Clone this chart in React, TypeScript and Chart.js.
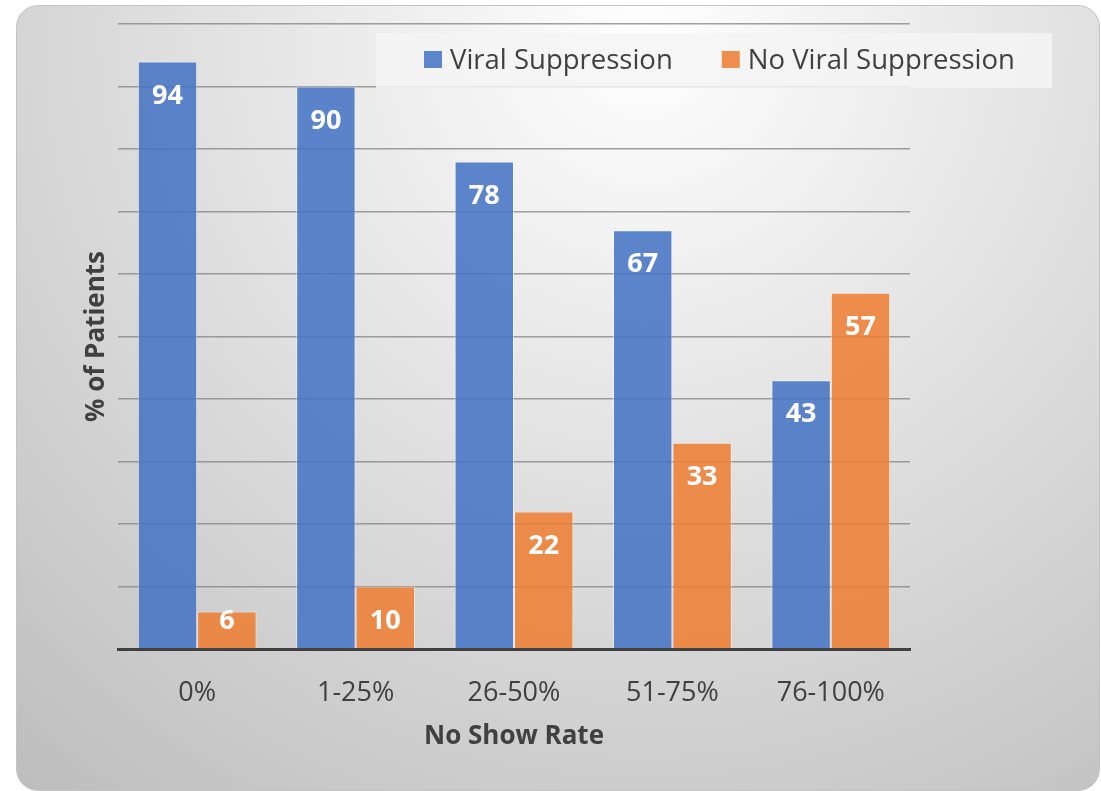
import React, { useEffect, useRef } from "react";
import { Chart, registerables } from "chart.js";

Chart.register(...registerables);

const categories = ["0%", "1-25%", "26-50%", "51-75%", "76-100%"];
const seriesNames = ["Viral Suppression", "No Viral Suppression"];
const viralSuppression = [94, 90, 78, 67, 43];
const noViralSuppression = [6, 10, 22, 33, 57];
const yMin = 0;
const yMax = 100;
const yStep = 10;
const xTitle = "No Show Rate";
const yTitle = "% of Patients";

const FONT = "'Open Sans', 'Noto Sans', sans-serif";
const TEXT = "#404040";
const BLUE = "rgba(68,114,196,0.86)";
const ORANGE = "rgba(237,125,49,0.86)";

const dataLabelPlugin = {
  id: "dataLabelPlugin",
  afterDatasetsDraw(chart: any) {
    const ctx = chart.ctx;
    ctx.save();
    ctx.font = `bold 27px ${FONT}`;
    ctx.fillStyle = "#ffffff";
    ctx.textAlign = "center";
    ctx.textBaseline = "middle";
    chart.data.datasets.forEach((ds: any, di: number) => {
      const meta = chart.getDatasetMeta(di);
      meta.data.forEach((el: any, i: number) => {
        const y = Math.min(el.y + 34.5, el.base - 27);
        ctx.fillText(String(ds.data[i]), el.x, y);
      });
    });
    ctx.restore();
  },
};

const legendBoxPlugin = {
  id: "legendBoxPlugin",
  afterDraw(chart: any) {
    const ctx = chart.ctx;
    ctx.save();
    ctx.fillStyle = "rgba(244,244,244,0.85)";
    ctx.fillRect(376, 33, 676, 55);
    ctx.font = `27.5px ${FONT}`;
    ctx.textBaseline = "middle";
    ctx.textAlign = "left";
    let x = 424;
    chart.data.datasets.forEach((ds: any) => {
      ctx.fillStyle = ds.backgroundColor;
      ctx.fillRect(x, 51, 18, 17);
      ctx.fillStyle = TEXT;
      ctx.fillText(ds.label, x + 26, 61.5);
      x += 26 + ctx.measureText(ds.label).width + 49;
    });
    ctx.restore();
  },
};

export default function App() {
  const canvasRef = useRef<HTMLCanvasElement | null>(null);

  useEffect(() => {
    if (!canvasRef.current) return;
    const chart = new Chart(canvasRef.current, {
      type: "bar",
      data: {
        labels: categories,
        datasets: [
          {
            label: seriesNames[0],
            data: viralSuppression,
            backgroundColor: BLUE,
            borderColor: "rgba(255,255,255,0.45)",
            borderWidth: 1,
            categoryPercentage: 0.75,
            barPercentage: 1.0,
          },
          {
            label: seriesNames[1],
            data: noViralSuppression,
            backgroundColor: ORANGE,
            borderColor: "rgba(255,255,255,0.45)",
            borderWidth: 1,
            categoryPercentage: 0.75,
            barPercentage: 1.0,
          },
        ],
      },
      options: {
        animation: false,
        responsive: false,
        maintainAspectRatio: false,
        layout: { padding: { left: 81.4, right: 191, top: 24, bottom: 38.4 } },
        plugins: {
          legend: { display: false },
          tooltip: { enabled: false },
        },
        scales: {
          x: {
            grid: { display: false, drawTicks: false },
            border: { display: true, color: "#404040", width: 3 },
            ticks: { color: TEXT, font: { family: FONT, size: 27 }, padding: 27.8 },
            title: {
              display: true,
              text: xTitle,
              color: TEXT,
              font: { family: FONT, size: 26, weight: "bold" },
              padding: { top: -15.6, bottom: 0 },
            },
          },
          y: {
            min: yMin,
            max: yMax,
            ticks: { display: false, stepSize: yStep },
            grid: { color: "rgba(130,130,130,0.75)", lineWidth: 1.5, drawTicks: false },
            border: { display: false },
            title: {
              display: true,
              text: yTitle,
              color: TEXT,
              font: { family: FONT, size: 26, weight: "bold" },
              padding: { top: 0, bottom: 5.4 },
            },
          },
        },
      },
      plugins: [dataLabelPlugin, legendBoxPlugin],
    });
    return () => chart.destroy();
  }, []);

  return (
    <div
      style={{
        position: "fixed",
        left: 0,
        top: 0,
        width: 1101,
        height: 791,
        background: "#ffffff",
        overflow: "hidden",
      }}
    >
      <div
        style={{
          position: "absolute",
          left: 16,
          top: 5,
          width: 1084,
          height: 786,
          boxSizing: "border-box",
          borderRadius: 22,
          border: "1px solid #c4c4c4",
          background:
            "radial-gradient(circle farthest-corner at 58% 4%, #ffffff 0%, #bdbdbd 100%)",
        }}
      />
      <canvas
        ref={canvasRef}
        width={1101}
        height={791}
        style={{ position: "absolute", left: 0, top: 0, width: 1101, height: 791 }}
      />
    </div>
  );
}
